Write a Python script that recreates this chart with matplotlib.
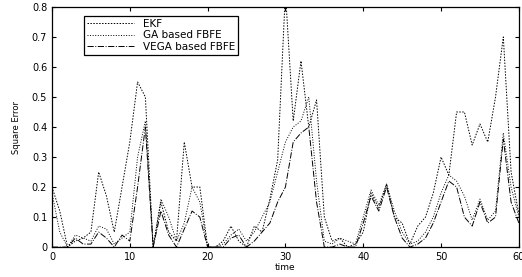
import matplotlib
matplotlib.use('Agg')
import matplotlib.pyplot as plt

# 时间轴 0..60
time = list(range(61))

ekf = [0.20, 0.12, 0.0, 0.02, 0.03, 0.05, 0.25, 0.17, 0.05, 0.20,
       0.35, 0.55, 0.50, 0.0, 0.15, 0.05, 0.02, 0.35, 0.20, 0.20,
       0.0, 0.0, 0.02, 0.07, 0.02, 0.0, 0.07, 0.05, 0.16, 0.29,
       0.85, 0.42, 0.62, 0.40, 0.49, 0.10, 0.02, 0.03, 0.0, 0.01,
       0.05, 0.18, 0.13, 0.21, 0.10, 0.08, 0.01, 0.07, 0.10, 0.18,
       0.30, 0.24, 0.45, 0.45, 0.34, 0.41, 0.35, 0.50, 0.70, 0.25, 0.11]

ga = [0.18, 0.05, 0.0, 0.04, 0.03, 0.02, 0.07, 0.06, 0.01, 0.03,
      0.05, 0.30, 0.42, 0.0, 0.16, 0.10, 0.02, 0.08, 0.20, 0.15,
      0.0, 0.0, 0.01, 0.04, 0.06, 0.02, 0.05, 0.10, 0.15, 0.25,
      0.35, 0.40, 0.42, 0.50, 0.22, 0.02, 0.01, 0.03, 0.02, 0.01,
      0.10, 0.19, 0.14, 0.21, 0.12, 0.05, 0.01, 0.02, 0.05, 0.10,
      0.18, 0.24, 0.22, 0.17, 0.09, 0.16, 0.09, 0.12, 0.38, 0.20, 0.10]

vega = [0.0, 0.0, 0.0, 0.03, 0.01, 0.01, 0.05, 0.03, 0.0, 0.04,
        0.02, 0.20, 0.40, 0.0, 0.12, 0.04, 0.0, 0.06, 0.12, 0.10,
        0.0, 0.0, 0.0, 0.03, 0.04, 0.0, 0.02, 0.05, 0.08, 0.15,
        0.20, 0.35, 0.38, 0.40, 0.15, 0.0, 0.0, 0.01, 0.0, 0.0,
        0.08, 0.17, 0.12, 0.20, 0.10, 0.03, 0.0, 0.01, 0.03, 0.08,
        0.15, 0.22, 0.20, 0.10, 0.07, 0.15, 0.08, 0.10, 0.36, 0.15, 0.08]

labels = ['EKF', 'GA based FBFE', 'VEGA based FBFE']
yticks = [0, 0.1, 0.2, 0.3, 0.4, 0.5, 0.6, 0.7, 0.8]
xticks = [0, 10, 20, 30, 40, 50, 60]

fig = plt.figure(figsize=(5.22, 2.77), dpi=100)
ax = fig.add_axes([0.0996, 0.108, 0.8944, 0.867])

ax.plot(time, ekf, linestyle=(0, (1.5, 1.5)), color='black', linewidth=0.7, label=labels[0])
ax.plot(time, ga, linestyle=':', color='black', linewidth=0.7, label=labels[1])
ax.plot(time, vega, linestyle='-.', color='black', linewidth=0.7, label=labels[2])

ax.set_xlim(0, 60)
ax.set_ylim(0, 0.8)
ax.set_xticks(xticks)
ax.set_yticks(yticks)
ax.set_yticklabels(['0'] + [str(v) for v in yticks[1:]])
ax.tick_params(direction='in', top=True, right=True, labelsize=7, length=3, width=0.8)
for s in ax.spines.values():
    s.set_linewidth(0.9)

ax.set_xlabel('time', fontsize=6.5, labelpad=1)
ax.set_ylabel('Square Error', fontsize=6, labelpad=8)

leg = ax.legend(loc='upper left', bbox_to_anchor=(0.058, 0.985), fontsize=7.5,
                fancybox=False, framealpha=1, edgecolor='black',
                handlelength=4.5, borderpad=0.3, labelspacing=0.15)
leg.get_frame().set_linewidth(0.9)

fig.savefig('out.png', dpi=100)
